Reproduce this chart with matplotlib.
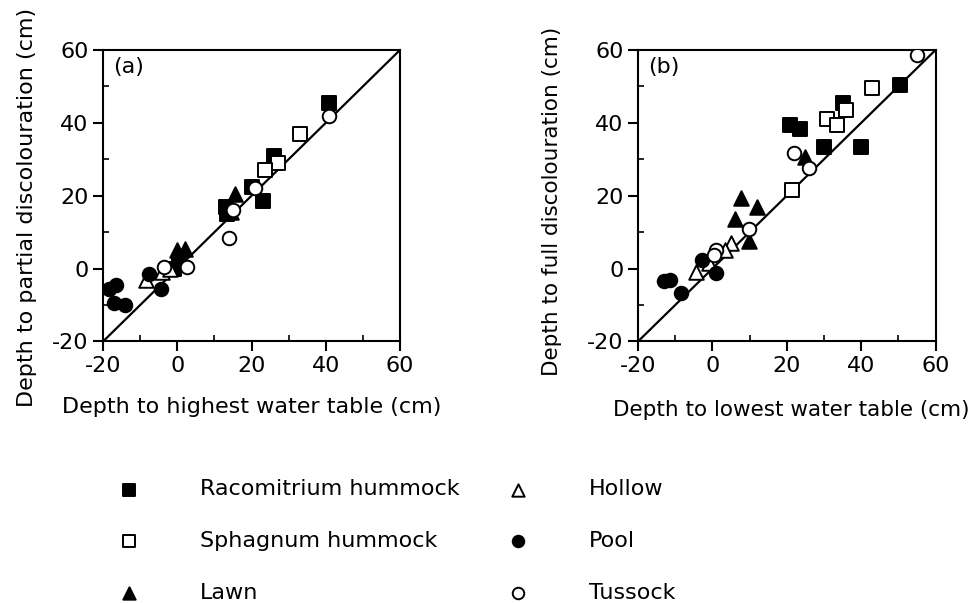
import matplotlib
matplotlib.use("Agg")
from matplotlib import pyplot as plt
from matplotlib.ticker import MultipleLocator

plt.rcParams['font.family'] = ['DejaVu Sans']
plt.rcParams['axes.unicode_minus'] = False

#Site types: label, marker, filled or not
types = ["Racomitrium hummock", "Sphagnum hummock", "Lawn", "Hollow", "Pool", "Tussock"]
markers = ["s", "s", "^", "^", "o", "o"]
filled = [True, False, True, False, True, False]

#Panel (a): depth to highest water table vs depth to partial discolouration
a_racomitrium_x = [41, 26, 20, 23, 13, 13.5, -1, 0.5]
a_racomitrium_y = [45.5, 31, 22.5, 18.5, 17, 15, 0, 1]
a_sphagnum_x = [33, 27, 23.5]
a_sphagnum_y = [37, 29, 27]
a_lawn_x = [15.5, 0, 2, 14.5]
a_lawn_y = [20.5, 5, 5.5, 15.5]
a_hollow_x = [-8.5, -4, -2]
a_hollow_y = [-3, -1, 0]
a_pool_x = [-18.5, -16.5, -17, -14, -7.5, -4.5]
a_pool_y = [-5.5, -4.5, -9.5, -10, -1.5, -5.5]
a_tussock_x = [41, 14, 2.5, -3.5, 15, 21]
a_tussock_y = [42, 8.5, 0.5, 0.5, 16, 22]

#Panel (b): depth to lowest water table vs depth to full discolouration
b_racomitrium_x = [50.5, 35, 21, 23.5, 30, 40]
b_racomitrium_y = [50.5, 45.5, 39.3, 38.3, 33.5, 33.5]
b_sphagnum_x = [43, 36, 30.7, 33.5, 21.5]
b_sphagnum_y = [49.5, 43.5, 41, 39.5, 21.5]
b_lawn_x = [25, 7.8, 12, 6, 9.8]
b_lawn_y = [30.5, 19.3, 17, 13.5, 7.5]
b_hollow_x = [5, 3.5, -4.5, -1]
b_hollow_y = [7, 5, -0.8, 1.5]
b_pool_x = [-2.7, 0.9, -13, -11.5, -8.5]
b_pool_y = [2.4, -1.3, -3.5, -3, -6.8]
b_tussock_x = [55, 22, 26, 9.8, 1, 0.4]
b_tussock_y = [58.5, 31.6, 27.7, 11, 5, 3.8]

panel_a = [(a_racomitrium_x, a_racomitrium_y), (a_sphagnum_x, a_sphagnum_y),
           (a_lawn_x, a_lawn_y), (a_hollow_x, a_hollow_y),
           (a_pool_x, a_pool_y), (a_tussock_x, a_tussock_y)]
panel_b = [(b_racomitrium_x, b_racomitrium_y), (b_sphagnum_x, b_sphagnum_y),
           (b_lawn_x, b_lawn_y), (b_hollow_x, b_hollow_y),
           (b_pool_x, b_pool_y), (b_tussock_x, b_tussock_y)]

lim = [-20, 60]


#Draw one panel with its 1:1 line
def draw_panel(ax, data, tag, xlabel, ylabel, xlab_pos, ylab_pos, label_size):
	handles = []
	for (x, y), m, f, lab in zip(data, markers, filled, types):
		size = 110 if m == "^" else 95
		h = ax.scatter(x, y, marker=m, s=size, facecolors="black" if f else "white",
			edgecolors="black", linewidths=1.4, zorder=3, label=lab)
		handles.append(h)
	ax.plot(lim, lim, color="black", linewidth=1.6, zorder=2)
	ax.set_xlim(lim)
	ax.set_ylim(lim)
	ax.xaxis.set_major_locator(MultipleLocator(20))
	ax.yaxis.set_major_locator(MultipleLocator(20))
	ax.xaxis.set_minor_locator(MultipleLocator(10))
	ax.yaxis.set_minor_locator(MultipleLocator(10))
	ax.tick_params(which="major", direction="out", length=7, width=1.5, labelsize=16, pad=3.5)
	ax.tick_params(which="minor", direction="in", length=4, width=1.2)
	for sp in ax.spines.values():
		sp.set_linewidth(1.5)
	ax.set_xlabel(xlabel, fontsize=label_size)
	ax.set_ylabel(ylabel, fontsize=label_size)
	ax.xaxis.set_label_coords(*xlab_pos)
	ax.yaxis.set_label_coords(*ylab_pos)
	ax.text(0.034, 0.975, tag, transform=ax.transAxes, fontsize=16, va="top", ha="left")
	return handles


fig = plt.figure(figsize=(9.73, 6.03), dpi=100)
ax_a = fig.add_axes([0.1059, 0.4337, 0.3052, 0.4834])
ax_b = fig.add_axes([0.6557, 0.4337, 0.3058, 0.4834])

handles = draw_panel(ax_a, panel_a, "(a)", "Depth to highest water table (cm)",
	"Depth to partial discolouration (cm)", (0.5, -0.19), (-0.222, 0.46), 16)
draw_panel(ax_b, panel_b, "(b)", "Depth to lowest water table (cm)",
	"Depth to full discolouration (cm)", (0.514, -0.2), (-0.255, 0.48), 15.5)

fig.legend(handles=handles, ncol=2, loc="lower left", bbox_to_anchor=(0.0893, -0.033),
	frameon=False, fontsize=16, scatterpoints=1, markerscale=0.85,
	handletextpad=2.2, columnspacing=1.6, labelspacing=1.43)

fig.savefig("out.png", dpi=100)
